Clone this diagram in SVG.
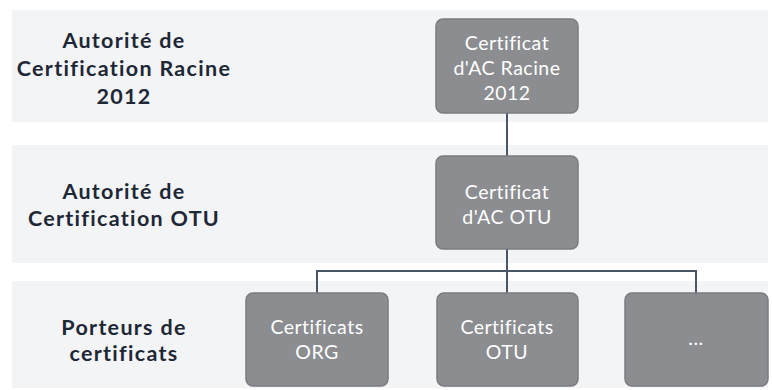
<svg xmlns="http://www.w3.org/2000/svg" width="772" height="390" viewBox="0 0 772 390">
<defs>
<style>
.band{fill:#f3f4f6;}
.box{fill:#8b8d91;stroke:#7a7c80;stroke-width:1.5;}
.bt{font-family:Lato,"Open Sans",sans-serif;font-size:19.5px;letter-spacing:0.5px;fill:#ffffff;text-anchor:middle;}
.lt{font-family:Lato,"Open Sans",sans-serif;font-size:21.5px;font-weight:bold;letter-spacing:1.3px;fill:#1e2735;text-anchor:middle;}
.conn{fill:none;stroke:#4a5666;stroke-width:2;}
</style>
</defs>
<rect width="772" height="390" fill="#ffffff"/>
<g id="bands">
<rect class="band" x="12" y="10" width="756" height="112"/>
<rect class="band" x="12" y="145" width="756" height="118"/>
<rect class="band" x="12" y="281" width="756" height="107"/>
</g>
<g id="labels">
<text class="lt" x="124" y="48">Autorité de</text>
<text class="lt" x="124" y="76">Certification Racine</text>
<text class="lt" x="124" y="104">2012</text>
<text class="lt" x="124" y="199">Autorité de</text>
<text class="lt" x="124" y="226">Certification OTU</text>
<text class="lt" x="124" y="335">Porteurs de</text>
<text class="lt" x="124" y="361">certificats</text>
</g>
<g id="connectors">
<line class="conn" x1="507" y1="113" x2="507" y2="156"/>
<line class="conn" x1="507" y1="249" x2="507" y2="293"/>
<polyline class="conn" points="317,293 317,271 696,271 696,293"/>
</g>
<g id="root">
<rect class="box" x="436" y="19" width="142" height="94" rx="7"/>
<text class="bt" x="507" y="50">Certificat</text>
<text class="bt" x="507" y="75">d'AC Racine</text>
<text class="bt" x="507" y="100">2012</text>
</g>
<g id="otu-ca">
<rect class="box" x="436" y="156" width="142" height="93" rx="7"/>
<text class="bt" x="507" y="199">Certificat</text>
<text class="bt" x="507" y="224">d'AC OTU</text>
</g>
<g id="org">
<rect class="box" x="246" y="293" width="142" height="93" rx="7"/>
<text class="bt" x="317" y="334">Certificats</text>
<text class="bt" x="317" y="359">ORG</text>
</g>
<g id="otu">
<rect class="box" x="437" y="293" width="141" height="93" rx="7"/>
<text class="bt" x="507" y="334">Certificats</text>
<text class="bt" x="507" y="359">OTU</text>
</g>
<g id="more">
<rect class="box" x="625" y="293" width="143" height="93" rx="7"/>
<text class="bt" x="696" y="345">...</text>
</g>
</svg>
